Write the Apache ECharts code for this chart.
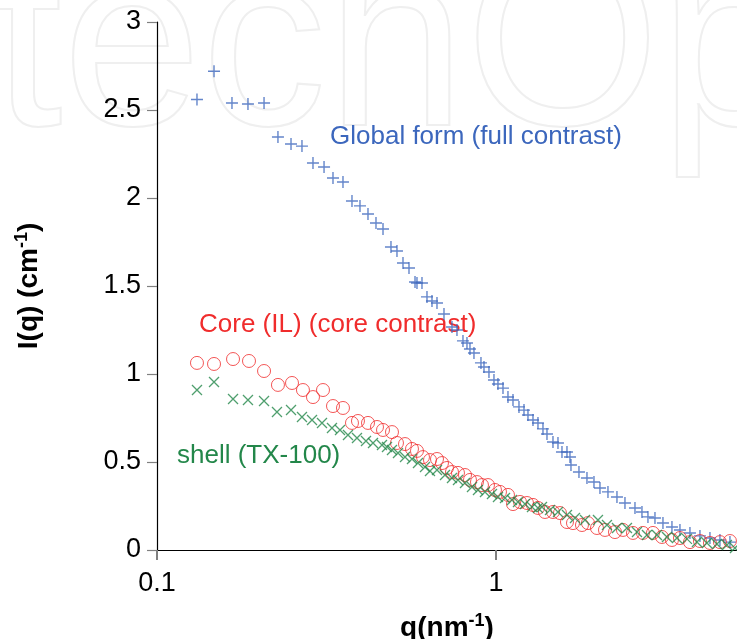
<!DOCTYPE html>
<html>
<head>
<meta charset="utf-8">
<script src="https://cdn.jsdelivr.net/npm/echarts@6/dist/echarts.min.js"></script>
<style>
  html, body { margin: 0; padding: 0; background: #fff; }
  #chart { width: 737px; height: 639px; }
</style>
</head>
<body>
<div id="chart"></div>
<script>
// global form (full contrast) - blue crosses
const blueQ = [0.1312, 0.1473, 0.1664, 0.1855, 0.2069, 0.2274, 0.2485, 0.2677, 0.2885, 0.3110,
  0.3305, 0.3537, 0.3760, 0.3970, 0.4192, 0.4426, 0.4642, 0.4900, 0.5104, 0.5317,
  0.5538, 0.5769, 0.5847, 0.6049, 0.6258, 0.6474, 0.6698, 0.7024, 0.7416, 0.7672,
  0.7991, 0.8211, 0.8380, 0.8611, 0.9030, 0.9217, 0.9534, 0.9864, 1.0135, 1.0487,
  1.0848, 1.1224, 1.1690, 1.2095, 1.2427, 1.2857, 1.3300, 1.3760, 1.4139, 1.4727,
  1.5235, 1.5655, 1.6195, 1.6529, 1.6641, 1.7570, 1.8551, 1.9455, 2.0264, 2.1395,
  2.2743, 2.4014, 2.5703, 2.6952, 2.8072, 2.9442, 3.1085, 3.3043, 3.4888, 3.7339,
  3.9963, 4.2772, 4.5777, 4.8995];
const blueI = [2.56, 2.72, 2.54, 2.534, 2.54, 2.347, 2.307, 2.295, 2.199, 2.176,
  2.114, 2.091, 1.983, 1.955, 1.909, 1.858, 1.824, 1.722, 1.699, 1.631,
  1.602, 1.523, 1.517, 1.517, 1.438, 1.415, 1.403, 1.341, 1.267, 1.25,
  1.188, 1.176, 1.142, 1.119, 1.063, 1.040, 1.011, 0.966, 0.943, 0.920,
  0.869, 0.852, 0.813, 0.795, 0.767, 0.739, 0.722, 0.688, 0.659, 0.614,
  0.608, 0.557, 0.557, 0.528, 0.483, 0.443, 0.409, 0.386, 0.352, 0.330,
  0.301, 0.267, 0.239, 0.216, 0.188, 0.182, 0.153, 0.131, 0.114, 0.097,
  0.080, 0.068, 0.057, 0.045];

// core (IL) (core contrast) - red circles
const redQ = [0.1312, 0.1473, 0.1676, 0.1868, 0.2069, 0.2274, 0.2502, 0.2695, 0.2885, 0.3088,
  0.3305, 0.3537, 0.3760, 0.3916, 0.4192, 0.4456, 0.4642, 0.4934, 0.5104, 0.5390,
  0.5652, 0.5847, 0.6090, 0.6387, 0.6698, 0.6929, 0.7168, 0.7416, 0.7724, 0.8101,
  0.8380, 0.8788, 0.9092, 0.9470, 0.9931, 1.0275, 1.0848, 1.1224, 1.1770, 1.2343,
  1.2857, 1.3300, 1.3949, 1.4727, 1.5443, 1.6195, 1.6870, 1.7932, 1.8677, 1.9855,
  2.0965, 2.2438, 2.3689, 2.5355, 2.7136, 2.9043, 3.0874, 3.3043, 3.4888, 3.7339,
  3.9963, 4.2772, 4.5777, 4.8995];
const redI = [1.063, 1.057, 1.085, 1.074, 1.017, 0.938, 0.949, 0.909, 0.869, 0.909,
  0.818, 0.807, 0.722, 0.733, 0.722, 0.699, 0.682, 0.670, 0.608, 0.602,
  0.574, 0.563, 0.528, 0.511, 0.517, 0.494, 0.466, 0.443, 0.438, 0.426,
  0.398, 0.386, 0.369, 0.369, 0.341, 0.330, 0.313, 0.261, 0.273, 0.267,
  0.256, 0.239, 0.216, 0.216, 0.210, 0.159, 0.153, 0.142, 0.153, 0.125,
  0.114, 0.102, 0.114, 0.097, 0.097, 0.097, 0.074, 0.057, 0.068, 0.045,
  0.051, 0.040, 0.045, 0.051];

// shell (TX-100) - green x marks
const greenQ = [0.1312, 0.1473, 0.1676, 0.1855, 0.2069, 0.2259, 0.2485, 0.2677, 0.2866, 0.3067,
  0.3282, 0.3466, 0.3659, 0.3890, 0.4135, 0.4337, 0.4610, 0.4769, 0.4934, 0.5139,
  0.5390, 0.5652, 0.5887, 0.6174, 0.6387, 0.6698, 0.7072, 0.7416, 0.7724, 0.8101,
  0.8495, 0.8848, 0.9279, 0.9730, 1.0135, 1.0631, 1.1147, 1.1611, 1.2177, 1.2770,
  1.3300, 1.3667, 1.4430, 1.5235, 1.6195, 1.7101, 1.8302, 1.9990, 2.1251, 2.2743,
  2.4341, 2.6053, 2.7883, 2.9843, 3.1940, 3.4184, 3.6587, 3.9158, 4.1909, 4.4855,
  4.8006, 5.069];
const greenI = [0.909, 0.955, 0.858, 0.852, 0.847, 0.784, 0.795, 0.756, 0.739, 0.722,
  0.693, 0.682, 0.653, 0.636, 0.619, 0.608, 0.597, 0.585, 0.568, 0.551,
  0.528, 0.517, 0.494, 0.472, 0.449, 0.455, 0.426, 0.409, 0.398, 0.381,
  0.358, 0.341, 0.330, 0.318, 0.301, 0.295, 0.284, 0.273, 0.261, 0.244,
  0.239, 0.244, 0.227, 0.216, 0.199, 0.182, 0.170, 0.170, 0.142, 0.125,
  0.125, 0.102, 0.085, 0.085, 0.074, 0.068, 0.063, 0.045, 0.040, 0.034,
  0.028, 0.011];

const yTicks = [0, 0.5, 1, 1.5, 2, 2.5, 3];

const BLUE = '#3c67bd';
const RED = '#f02c2c';
const GREEN = '#23874a';
const FONT = 'Liberation Sans, Arial, sans-serif';

function pairs(xs, ys) {
  return xs.map((x, i) => [x, ys[i]]);
}

const supStyle = { fontFamily: FONT, fontSize: 18, fontWeight: 'bold', color: '#000', verticalAlign: 'top', padding: [0, 0, 14, 0] };

const chart = echarts.init(document.getElementById('chart'));
chart.setOption({
  animation: false,
  backgroundColor: '#fff',
  grid: { left: 157, top: 22, right: 0, bottom: 89, containLabel: false, outerBoundsMode: 'none' },
  xAxis: {
    type: 'log',
    logBase: 10,
    min: 0.1,
    max: 5.14,
    name: 'q(nm{sup|-1})',
    nameLocation: 'middle',
    nameGap: 62,
    nameTextStyle: {
      fontFamily: FONT, fontSize: 28, fontWeight: 'bold', color: '#000',
      rich: { sup: supStyle }
    },
    axisLine: { show: true, onZero: false, lineStyle: { color: '#000', width: 1.2 } },
    axisTick: { show: true, length: 10, lineStyle: { color: '#808080', width: 2 } },
    axisLabel: { fontFamily: FONT, fontSize: 27, color: '#000', margin: 20, showMaxLabel: false },
    splitLine: { show: false },
    minorTick: { show: false }
  },
  yAxis: {
    type: 'value',
    min: yTicks[0],
    max: yTicks[yTicks.length - 1],
    interval: 0.5,
    name: 'I(q) (cm{sup|-1})',
    nameLocation: 'middle',
    nameGap: 112,
    nameRotate: 90,
    nameTextStyle: {
      fontFamily: FONT, fontSize: 28, fontWeight: 'bold', color: '#000',
      rich: { sup: supStyle }
    },
    axisLine: { show: true, lineStyle: { color: '#000', width: 1.2 } },
    axisTick: { show: true, length: 10, lineStyle: { color: '#808080', width: 1.2 } },
    axisLabel: { fontFamily: FONT, fontSize: 27, color: '#000', margin: 16 },
    splitLine: { show: false }
  },
  graphic: [
    {
      type: 'text', left: -8, top: -70, z: -10, silent: true,
      style: { text: 'techOpen', fontFamily: FONT, fontSize: 250, fill: 'transparent', stroke: '#efefef', lineWidth: 2 }
    },
    { type: 'text', left: 330, top: 124, style: { text: 'Global form (full contrast)', fontFamily: FONT, fontSize: 26, fill: BLUE } },
    { type: 'text', left: 199, top: 312, style: { text: 'Core (IL) (core contrast)', fontFamily: FONT, fontSize: 26, fill: RED } },
    { type: 'text', left: 177, top: 443, style: { text: 'shell (TX-100)', fontFamily: FONT, fontSize: 26, fill: GREEN } }
  ],
  series: [
    {
      name: 'Global form', type: 'scatter', data: pairs(blueQ, blueI),
      symbol: 'path://M0,5L10,5M5,0L5,10', symbolSize: 12,
      itemStyle: { color: 'transparent', borderColor: BLUE, borderWidth: 1.4 }
    },
    {
      name: 'Core', type: 'scatter', data: pairs(redQ, redI),
      symbol: 'circle', symbolSize: 13,
      itemStyle: { color: 'transparent', borderColor: RED, borderWidth: 1 }
    },
    {
      name: 'Shell', type: 'scatter', data: pairs(greenQ, greenI),
      symbol: 'path://M0,0L10,10M10,0L0,10', symbolSize: 10,
      itemStyle: { color: 'transparent', borderColor: GREEN, borderWidth: 1.3 }
    }
  ]
});
</script>
</body>
</html>
